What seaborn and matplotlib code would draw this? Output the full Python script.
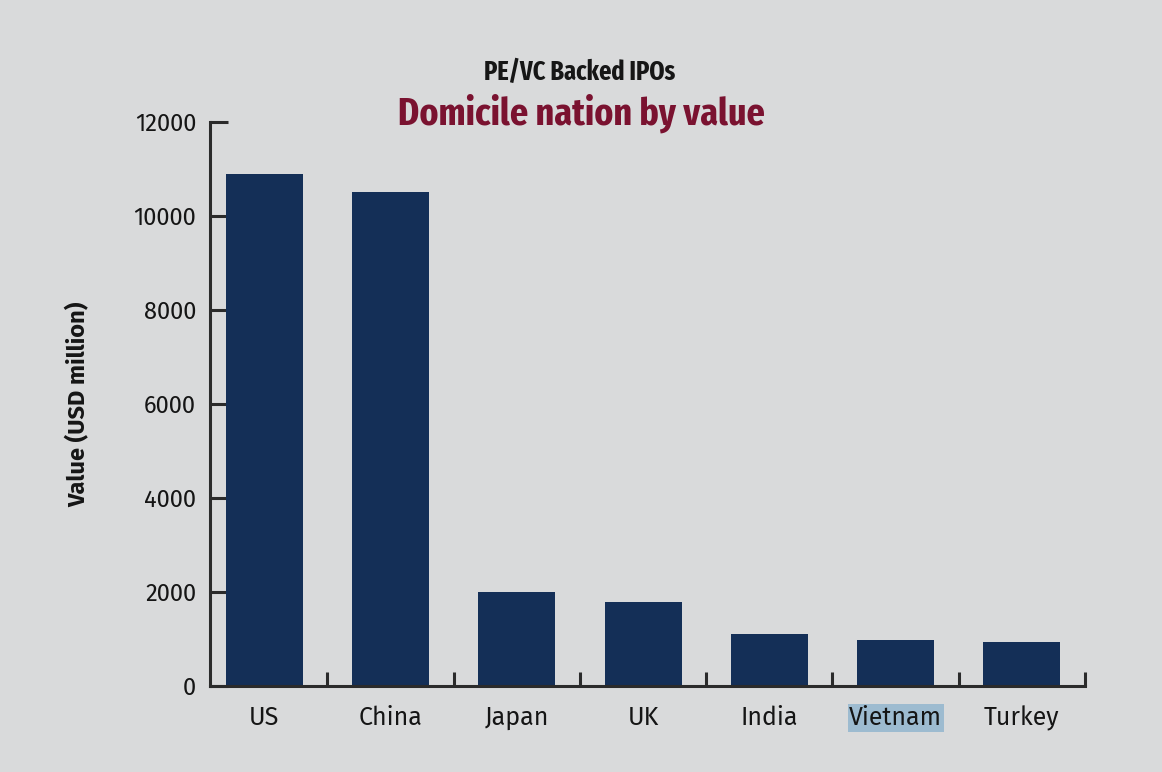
import matplotlib
matplotlib.use("Agg")
import matplotlib.pyplot as plt
import seaborn as sns
import pandas as pd
from matplotlib.ticker import FixedLocator

countries = ["US", "China", "Japan", "UK", "India", "Vietnam", "Turkey"]
values = [10900, 10500, 2000, 1790, 1100, 980, 940]
yticks = [0, 2000, 4000, 6000, 8000, 10000, 12000]

sns.set_theme(style="ticks")
plt.rcParams['font.family'] = ['Fira Sans', 'Open Sans', 'DejaVu Sans']
title_family = ['Fira Sans Extra Condensed', 'Asap Condensed', 'DejaVu Sans']

bg = "#d9dadb"
bar_color = "#142f57"
axis_color = "#2b2b2b"
text_color = "#151515"

fig = plt.figure(figsize=(11.62, 7.72), dpi=100, facecolor=bg)
ax = fig.add_axes([0.1807, 0.1114, 0.7530, 0.7306])
ax.set_facecolor(bg)

df = pd.DataFrame({"country": countries, "value": values})
sns.barplot(data=df, x="country", y="value", color=bar_color, width=0.61,
            saturation=1, linewidth=0, ax=ax)

ax.set_xlim(-0.43, len(countries) - 0.5)
ax.set_ylim(0, 12000)
ax.set_yticks(yticks)
ax.set_yticklabels([str(v) for v in yticks], fontsize=17, color=text_color)

# boundary ticks (unlabelled) and centered labels (minor)
ax.xaxis.set_major_locator(FixedLocator([i + 0.5 for i in range(len(countries))]))
ax.set_xticklabels([""] * len(countries))
ax.xaxis.set_minor_locator(FixedLocator(list(range(len(countries)))))
ax.set_xticklabels(countries, minor=True, fontsize=18, color=text_color)
ax.tick_params(axis="x", which="major", direction="in", length=10, width=2.2, color=axis_color)
ax.tick_params(axis="x", which="minor", length=0, pad=14)
ax.tick_params(axis="y", direction="in", length=13, width=2.2, color=axis_color, pad=10)

for s in ["top", "right"]:
    ax.spines[s].set_visible(False)
for s in ["left", "bottom"]:
    ax.spines[s].set_linewidth(2.2)
    ax.spines[s].set_color(axis_color)

for lab in ax.get_xticklabels(minor=True):
    if lab.get_text() == "Vietnam":
        lab.set_bbox(dict(facecolor="#9dbbd0", edgecolor="none", pad=1.0))

ax.set_xlabel("")
ax.set_ylabel("Value (USD million)", fontsize=17, fontweight="bold", labelpad=31, color=text_color)

fig.text(0.499, 0.907, "PE/VC Backed IPOs", ha="center", va="center", fontsize=19,
         fontweight="bold", color="#161616", family=title_family)
fig.text(0.5, 0.853, "Domicile nation by value", ha="center", va="center", fontsize=28,
         fontweight="bold", color="#7a1230", family=title_family)

fig.savefig("out.png", dpi=100, facecolor=bg)
